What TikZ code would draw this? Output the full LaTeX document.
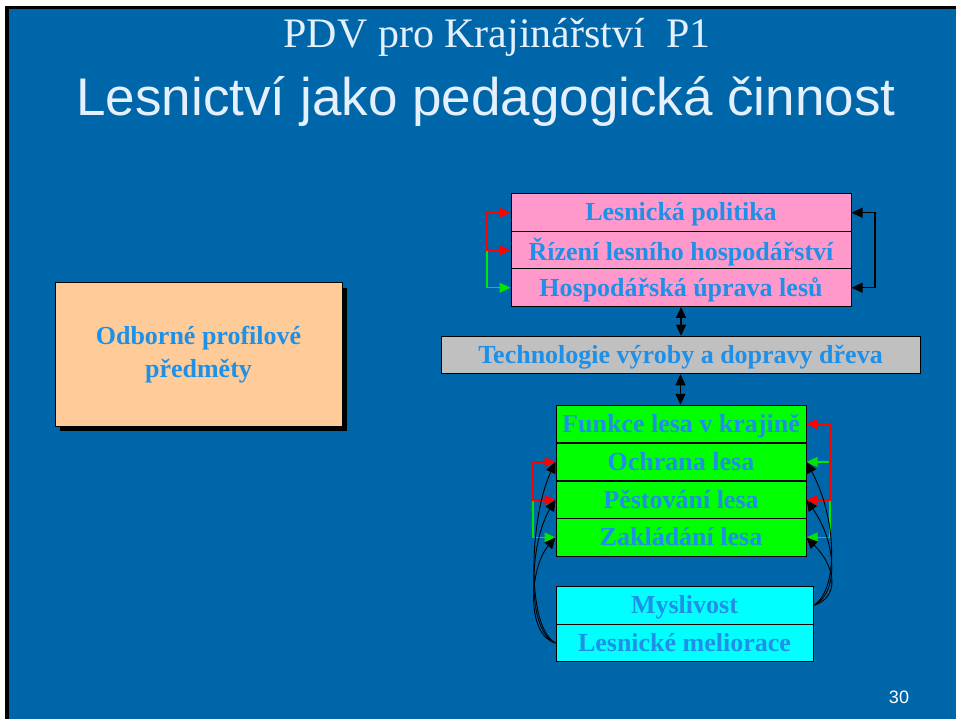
\documentclass[tikz,border=0pt]{standalone}
\usepackage{fontspec}
\setmainfont{Liberation Serif}
\newfontfamily\arialf{Liberation Sans}
\usetikzlibrary{arrows.meta}
\definecolor{slideblue}{RGB}{0,102,170}
\definecolor{txtblue}{RGB}{30,144,232}
\definecolor{pinkbox}{RGB}{255,153,204}
\definecolor{graybox}{RGB}{192,192,192}
\definecolor{greenbox}{RGB}{0,255,0}
\definecolor{cyanbox}{RGB}{0,255,255}
\definecolor{peachbox}{RGB}{255,204,153}
\definecolor{titlecol}{RGB}{228,240,252}
\definecolor{arrred}{RGB}{255,0,0}
\definecolor{arrgreen}{RGB}{0,230,0}
\begin{document}
\begin{tikzpicture}[x=1pt,y=-1pt,
  >={Triangle[length=11pt,width=10pt]},
  rowbox/.style={draw=black, line width=1pt, minimum height=37.5pt, inner sep=0pt,
    font=\fontsize{26}{28}\selectfont\bfseries, text=txtblue, text depth=2pt},
  pinkrow/.style={rowbox, fill=pinkbox, minimum width=340pt},
  greenrow/.style={rowbox, fill=greenbox, minimum width=250pt},
  cyanrow/.style={rowbox, fill=cyanbox, minimum width=257pt},
  conn/.style={line width=1.2pt},
  curv/.style={line width=0.9pt, black, ->},
  titletext/.style={anchor=base, inner sep=0pt}
]
\useasboundingbox (0,0) rectangle (956,719);
% slide background and border
\fill[white] (0,0) rectangle (956,719);
\fill[black] (5,6) rectangle (956,719);
\fill[slideblue] (9,9) rectangle (956,719);

% titles
\node[titletext, text=titlecol, font=\fontsize{42}{44}\selectfont] (t1) at (497,48) {PDV pro Krajinářství~~P1};
\node[titletext, text=titlecol, font=\fontsize{53}{55}\arialf] (t2) at (486,116) {Lesnictví jako pedagogická činnost};

% page number
\node[titletext, text=white, font=\fontsize{18}{20}\arialf] (pn) at (899,703) {30};

% left box with shadow
\fill[black] (60,288) rectangle (347,431);
\node[draw=black, line width=1pt, fill=peachbox, minimum width=287pt, minimum height=143pt,
  inner sep=0pt, align=center, text=txtblue, font=\fontsize{26}{33}\selectfont\bfseries]
  (lb) at (198.5,354.5) {Odborné profilové\\předměty};

% pink block
\node[pinkrow] (p1) at (681,212.75) {Lesnická politika};
\node[pinkrow] (p2) at (681,250.25) {Řízení lesního hospodářství};
\node[pinkrow] (p3) at (681,287.75) {Hospodářská úprava lesů};

% gray
\node[rowbox, fill=graybox, minimum width=479pt] (t) at (680.5,355) {Technologie výroby a dopravy dřeva};

% green block
\node[greenrow] (g1) at (681,424) {Funkce lesa v krajině};
\node[greenrow] (g2) at (681,462) {Ochrana lesa};
\node[greenrow] (g3) at (681,500) {Pěstování lesa};
\node[greenrow] (g4) at (681,537.5) {Zakládání lesa};

% cyan block
\node[cyanrow] (m1) at (684.5,605.5) {Myslivost};
\node[cyanrow] (m2) at (684.5,643) {Lesnické meliorace};

% bracket x positions
\coordinate (xl1) at (487,0);
\coordinate (xr1) at (875,0);
\coordinate (xl2) at (533,0);
\coordinate (xr2) at (830,0);

% vertical links
\draw[conn, <->] (p3.south) -- (p3.south |- t.north);
\draw[conn, <->] (t.south) -- (t.south |- g1.north);

% pink brackets
\draw[conn, arrgreen, ->] (p2.west -| xl1) |- (p3.west);
\draw[conn, arrred, <->] (p2.west) -- (p2.west -| xl1) |- (p1.west);
\draw[conn, black, <->] (p1.east) -- (p1.east -| xr1) |- (p3.east);

% green block brackets left
\draw[conn, arrgreen, ->] (g3.west -| xl2) |- (g4.west);
\draw[conn, arrred, <->] (g2.west) -- (g2.west -| xl2) |- (g3.west);
% green block brackets right
\draw[conn, arrgreen, <->] (g2.east) -- (g2.east -| xr2) |- (g4.east);
\draw[conn, arrred, <->] (g1.east) -- (g1.east -| xr2) |- (g3.east);

% curves from Lesnické meliorace
\draw[curv] (m2.west) .. controls +(-30,-8) and +(-26,30) .. (g4.west);
\draw[curv] (m2.west) .. controls +(-30,-12) and +(-26,42) .. (g3.west);
\draw[curv] (m2.west) .. controls +(-30,-16) and +(-26,55) .. (g2.west);
% curves from Myslivost
\draw[curv] (m1.east) .. controls +(26,-8) and +(30,30) .. (g4.east);
\draw[curv] (m1.east) .. controls +(26,-12) and +(30,42) .. (g3.east);
\draw[curv] (m1.east) .. controls +(26,-16) and +(30,55) .. (g2.east);
\end{tikzpicture}
\end{document}
